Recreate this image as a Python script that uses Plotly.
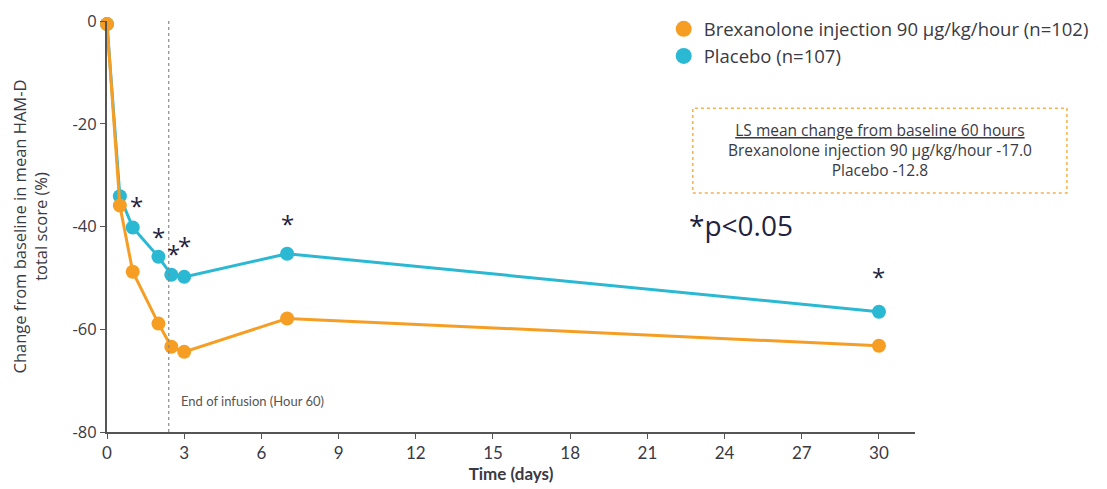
import plotly.graph_objects as go

days = [0, 0.5, 1, 2, 2.5, 3, 7, 30]
brex = [-0.6, -35.9, -48.8, -58.9, -63.4, -64.4, -57.9, -63.2]
placebo = [-0.6, -34.1, -40.2, -45.9, -49.4, -49.8, -45.3, -56.6]
sig_days = [1, 2, 2.5, 3, 7, 30]
sig_shift = [22, 20, 21, 31, 30, 35]
sig_xshift = [4, 0, 2, 0, 0, 0]
x_ticks = [0, 3, 6, 9, 12, 15, 18, 21, 24, 27, 30]
y_ticks = [-80, -60, -40, -20, 0]
y_ticklabels = ["-80", "-60", "-40", "-20", "0"]
infusion_end = 2.4

ORANGE = "#F59E23"
CYAN = "#2BB8D3"
TXT = "#3a3a44"

fig = go.Figure()
fig.add_trace(go.Scatter(x=days, y=placebo, mode="lines+markers",
                         line=dict(color=CYAN, width=3), marker=dict(size=14, color=CYAN),
                         showlegend=False, cliponaxis=False))
fig.add_trace(go.Scatter(x=days, y=brex, mode="lines+markers",
                         line=dict(color=ORANGE, width=3), marker=dict(size=14, color=ORANGE),
                         showlegend=False, cliponaxis=False))
fig.add_trace(go.Scatter(x=[None], y=[None], mode="markers", marker=dict(size=18, color=ORANGE),
                         name="Brexanolone injection 90 µg/kg/hour (n=102)"))
fig.add_trace(go.Scatter(x=[None], y=[None], mode="markers", marker=dict(size=18, color=CYAN),
                         name="Placebo (n=107)"))

fig.add_shape(type="line", x0=infusion_end, x1=infusion_end, y0=-80, y1=0.5,
              line=dict(color="#8a8a8a", width=1.2, dash="dot"))

for d, s, xs in zip(sig_days, sig_shift, sig_xshift):
    yv = placebo[days.index(d)]
    fig.add_annotation(x=d, y=yv, text="*", showarrow=False, yshift=s, xshift=xs,
                       font=dict(size=24, color="#1f2340", family="Open Sans"))

fig.add_annotation(x=infusion_end + 0.4, y=-74, text="End of infusion (Hour 60)", showarrow=False,
                   xanchor="left", yanchor="middle", font=dict(size=13, color="#555555", family="Lato"))

# LS mean box
fig.add_shape(type="rect", xref="paper", yref="paper", x0=0.725, x1=1.188, y0=0.5815, y1=0.788,
              line=dict(color="#F3B24F", width=1.5, dash="dot"))
fig.add_annotation(xref="paper", yref="paper", x=0.957, y=0.685, xanchor="center", yanchor="middle",
                   text="<u>LS mean change from baseline 60 hours</u><br>Brexanolone injection 90 µg/kg/hour -17.0<br>Placebo -12.8",
                   showarrow=False, align="center", font=dict(size=15.5, color=TXT, family="Open Sans"))
fig.add_annotation(xref="paper", yref="paper", x=0.718, y=0.504, xanchor="left", yanchor="middle",
                   text="*p<0.05", showarrow=False, font=dict(size=28, color="#1f2340", family="Open Sans"))

fig.update_layout(
    width=1107, height=489,
    margin=dict(l=99, r=200, t=13, b=65, autoexpand=False),
    plot_bgcolor="white", paper_bgcolor="white",
    font=dict(family="Lato", color=TXT, size=14),
    legend=dict(x=0.689, y=1.026, xanchor="left", yanchor="top",
                font=dict(size=18.5, color=TXT, family="Open Sans"),
                bgcolor="rgba(0,0,0,0)", tracegroupgap=0, itemwidth=30),
    xaxis=dict(range=[0, 31.4], tickvals=x_ticks, showgrid=False, zeroline=False,
               showline=True, linecolor="#555555", linewidth=2, ticks="outside",
               ticklen=5, tickcolor="#555555",
               title=dict(text="<b>Time (days)</b>", font=dict(size=17, color=TXT, family="Lato"), standoff=6),
               tickfont=dict(size=17, color=TXT, family="Lato")),
    yaxis=dict(range=[-80, 0], tickvals=y_ticks, ticktext=y_ticklabels, showgrid=False, zeroline=False,
               showline=True, linecolor="#555555", linewidth=2, ticks="outside",
               ticklen=5, tickcolor="#555555",
               title=dict(text="Change from baseline in mean HAM-D<br>total score (%)",
                          font=dict(size=16.5, color=TXT, family="Open Sans"), standoff=21),
               tickfont=dict(size=16.5, color=TXT, family="Open Sans")),
)

fig.write_html("out.html")
